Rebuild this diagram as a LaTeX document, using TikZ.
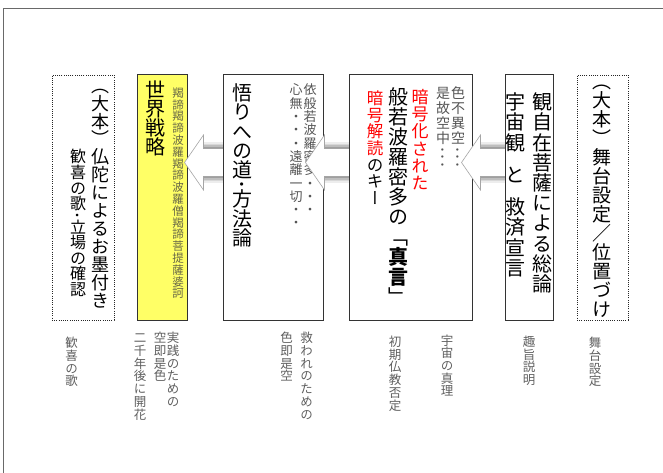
\documentclass[tikz,border=0pt]{standalone}
\usepackage{graphicx}
\usepackage{fontspec}
\setmainfont{Noto Sans CJK JP}[RawFeature=+vert]
\usetikzlibrary{calc}
\definecolor{textgray}{RGB}{85,85,85}
\definecolor{labelgray}{RGB}{95,95,95}
\definecolor{yellowfill}{RGB}{255,255,102}
\definecolor{olivegray}{RGB}{105,105,70}
\definecolor{arrowgray}{RGB}{165,165,165}
\definecolor{framegray}{RGB}{105,105,105}
\newlength\vpitch
\def\vgap{vgap}
\def\hdot{hdot}
\def\vcell#1{\vbox to\vpitch{\vss\hbox to\vpitch{\hss\vrule height .88em depth .12em width 0pt\relax #1\hss}\vss}}
\def\vhalfcell{\vbox to.5\vpitch{\vss\hbox to\vpitch{\hss\rotatebox{-90}{\vrule height .88em depth .12em width 0pt\relax ･}\hss}\vss}}
\def\vcolaux#1{%
  \ifx\relax#1\else
    \ifx\vgap#1\vskip.6\vpitch\else
      \ifx\hdot#1\vhalfcell\else\vcell{#1}\fi
    \fi
    \expandafter\vcolaux
  \fi}
\newcommand\vcol[1]{\vbox{\offinterlineskip\vcolaux#1\relax}}
\newcommand\vf[2]{\fontsize{#1}{#1}\selectfont\setlength\vpitch{#2pt}}
\tikzset{
  vt/.style={anchor=north, inner sep=0pt, outer sep=0pt},
  solidbox/.style={draw=black!80, line width=1pt, fill=white, minimum height=245pt, inner sep=0pt},
  yellowbox/.style={solidbox, fill=yellowfill},
  dotbox/.style={draw=black!85, line width=0.8pt, dash pattern=on 1pt off 1.2pt, fill=white, minimum height=245pt, inner sep=0pt},
  arrowbody/.style={fill=white, draw=arrowgray, line width=0.6pt, line join=miter},
  lbl/.style={vt, text=labelgray}
}
\newcommand\blockarrow[2]{%
  \coordinate (tip) at ($(#1.east)+(#2,-35)$);
  \foreach \w/\o in {12/0.07,9/0.09,6/0.12,3/0.16}{%
    \draw[line width=\w pt, black, opacity=\o] ($(tip)+(19,-14)$) rectangle ($(tip)+(55,14)$);}
  \draw[arrowbody] (tip) -- ++(19,-27.5) -- ++(0,13.5) -- ++(36,0) -- ++(0,28) -- ++(-36,0) -- ++(0,13.5) -- cycle;
}
\begin{document}
\begin{tikzpicture}[x=1pt,y=-1pt]
\useasboundingbox (0,0) rectangle (663,473);
% left dotted box
\node[dotbox, minimum width=62pt] (b5) at (83,197.5) {};
\node[vt] (t5a) at (100,76.5) {\vf{18}{17.9}\vcol{（大本）仏陀によるお墨付き}};
\node[vt] (t5b) at (78,149) {\vf{16}{15.6}\vcol{歓喜の歌\hdot 立場の確認}};
% yellow box
\node[yellowbox, minimum width=50pt] (b4) at (162,197.5) {};
\node[vt] (t4a) at (155,80.5) {\vf{20}{19}\vcol{世界戦略}};
\node[vt, text=olivegray] (t4b) at (178,87) {\vf{11.5}{11.8}\vcol{羯諦羯諦波羅羯諦波羅僧羯諦菩提薩婆訶}};
\blockarrow{b4}{-3}
% box 3
\node[solidbox, minimum width=100pt] (b3) at (273,197.5) {};
\node[vt, text=textgray] (t3a) at (310,83.4) {\vf{13}{13.3}\vcol{依般若波羅密多・・・}};
\node[vt, text=textgray] (t3b) at (296,83.4) {\vf{13}{13.3}\vcol{心無・・・遠離一切・・}};
\node[vt] (t3c) at (242,83.4) {\vf{20}{19.3}\vcol{悟りへの道\hdot 方法論}};
\blockarrow{b3}{-18}
% box 2
\node[solidbox, minimum width=123pt] (b2) at (410.5,197.5) {};
\node[vt, text=textgray] (t2a) at (458,86) {\vf{14}{15}\vcol{色不異空\hdot\hdot\hdot}};
\node[vt, text=textgray] (t2b) at (443,86) {\vf{14}{15}\vcol{是故空中\hdot\hdot\hdot}};
\node[vt, text=red] (t2c) at (420,88) {\vf{17}{17.3}\vcol{暗号化された}};
\node[vt] (t2d) at (398,87) {\vf{20}{20}\vcol{般若波羅密多の「{\bfseries 真}{\bfseries 言}」}};
\node[vt] (t2e) at (375,89.7) {\vf{16.5}{16.7}\vbox{\offinterlineskip{\color{red}\vcolaux 暗号解読\relax}\vcolaux のキー\relax}};
\blockarrow{b2}{-11}
% box 1
\node[solidbox, minimum width=48pt] (b1) at (529,197.5) {};
\node[vt] (t1a) at (542,92) {\vf{20}{20.2}\vcol{観自在菩薩による総論}};
\node[vt] (t1b) at (515,92) {\vf{20}{20.2}\vcol{宇宙観\vgap と\vgap 救済宣言}};
% right dotted box
\node[dotbox, minimum width=51pt] (b0) at (602.5,197.5) {};
\node[vt] (t0) at (602,71.5) {\vf{19}{19}\vcol{（大本）舞台設定／位置づけ}};
% bottom labels
\node[lbl] (l1) at (71.7,336.7) {\vf{12.5}{12.7}\vcol{歓喜の歌}};
\node[lbl] (l2) at (173,331.7) {\vf{12.5}{12.7}\vcol{実践のための}};
\node[lbl] (l3) at (160,331.7) {\vf{12.5}{12.7}\vcol{空即是色}};
\node[lbl] (l4) at (140,331.7) {\vf{12.5}{12.7}\vcol{二千年後に開花}};
\node[lbl] (l5) at (306.7,331.7) {\vf{12.5}{12.7}\vcol{救われのための}};
\node[lbl] (l6) at (286.7,331.7) {\vf{12.5}{12.7}\vcol{色即是空}};
\node[lbl] (l7) at (395,335.4) {\vf{12.5}{12.7}\vcol{初期仏教否定}};
\node[lbl] (l8) at (447,334) {\vf{12.5}{12.7}\vcol{宇宙の真理}};
\node[lbl] (l9) at (529,335.4) {\vf{12.5}{12.7}\vcol{趣旨説明}};
\node[lbl] (l10) at (595,336.7) {\vf{12.5}{12.7}\vcol{舞台設定}};
% outer frame
\draw[framegray, line width=1.3pt] (3.5,473) -- (3.5,8.5) -- (663,8.5);
\end{tikzpicture}
\end{document}
